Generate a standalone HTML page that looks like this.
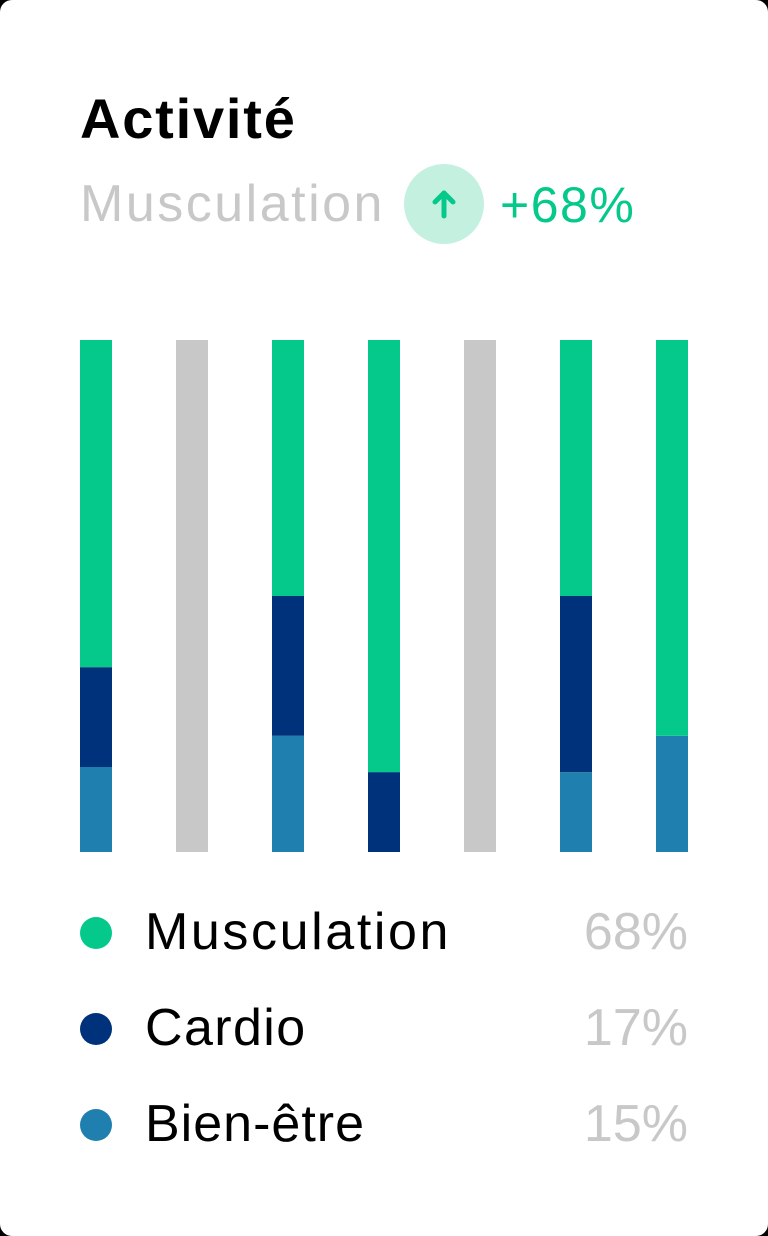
<!DOCTYPE html>
<html><head><meta charset="utf-8"><style>
html,body{margin:0;padding:0;background:#000;width:768px;height:1236px;overflow:hidden;font-family:"Liberation Sans",sans-serif}
#card{position:absolute;left:0;top:0;width:768px;height:1236px;background:#fff;border-radius:12px}
.t{position:absolute;white-space:nowrap}
</style></head><body>
<div id="card">
<div class="t" style="left:80px;top:86px;font-size:56px;font-weight:bold;color:#000;letter-spacing:1.8px">Activité</div>
<div class="t" style="left:80px;top:174px;font-size:52px;color:#c8c8c8;letter-spacing:2.5px">Musculation</div>
<div style="position:absolute;left:404px;top:164px;width:80px;height:80px;border-radius:50%;background:#c3f0df">
<svg width="80" height="80"><line x1="40" y1="52" x2="40" y2="29" stroke="#05c98a" stroke-width="5" stroke-linecap="round"/><polyline points="31,38 40,29 49,38" fill="none" stroke="#05c98a" stroke-width="5" stroke-linecap="round" stroke-linejoin="round"/></svg></div>
<div class="t" style="left:500px;top:176px;font-size:50px;color:#05c98a;letter-spacing:1.5px">+68%</div>
<svg id="chart" style="position:absolute;left:0;top:0" width="768" height="880"></svg>
<div id="legend"></div>
</div>
<script>
const days=[1,2,3,4,5,6,7];
const bienEtre=[16.6,0,22.7,0,0,15.6,22.7];
const cardio=[19.5,0,27.3,15.6,0,34.4,0];
const musculation=[63.9,0,50,84.4,0,50,77.3];
const legendLabels=["Musculation","Cardio","Bien-être"];
const legendValues=["68%","17%","15%"];
const colors=["#05c98a","#00327b","#1f80b0"];
const spacing=["2.6px","1.4px","1px"];
const svg=document.getElementById('chart');
const NS='http://www.w3.org/2000/svg';
const top0=340,bottom0=852,H=bottom0-top0;
function x(i){return 80+i*96;}
function y(v){return bottom0-v/100*H;}
function rect(xx,y1,y2,c,name){const r=document.createElementNS(NS,'rect');r.setAttribute('x',xx);r.setAttribute('y',y2);r.setAttribute('width',32);r.setAttribute('height',Math.max(0,y1-y2));r.setAttribute('fill',c);


svg.appendChild(r);}
days.forEach((d,i)=>{
 const tot=bienEtre[i]+cardio[i]+musculation[i];
 if(tot===0){rect(x(i),y(0),y(100),'#c8c8c8','bar-empty-day-'+d);return;}
 let acc=0;
 [[bienEtre[i],colors[2],'bien-etre'],[cardio[i],colors[1],'cardio'],[musculation[i],colors[0],'musculation']].forEach(([v,c,n])=>{
  if(v>0){rect(x(i),y(acc),y(acc+v),c,'bar-'+n+'-day-'+d);acc+=v;}
 });
});
const lg=document.getElementById('legend');
legendLabels.forEach((l,i)=>{
 const yy=933+i*96;
 const dot=document.createElement('div');dot.style.cssText=`position:absolute;left:80px;top:${yy-16}px;width:32px;height:32px;border-radius:50%;background:${colors[i]}`;
 
 
 lg.appendChild(dot);
 const t=document.createElement('div');t.className='t';t.style.cssText=`left:145px;top:${yy-31}px;font-size:52px;color:#000;letter-spacing:${spacing[i]}`;t.textContent=l;
 
 
 lg.appendChild(t);
 const v=document.createElement('div');v.className='t';v.style.cssText=`right:80px;top:${yy-31}px;font-size:52px;color:#c8c8c8`;v.textContent=legendValues[i];
 
 
 lg.appendChild(v);
});
</script>
</body></html>
